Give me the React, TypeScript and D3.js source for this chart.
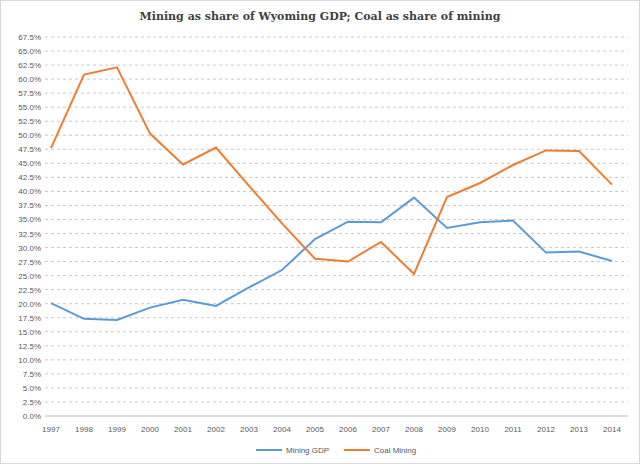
import React from 'react';
import * as d3 from 'd3';

const years = d3.range(1997, 2015).map(String);
const miningGdp = [20.1, 17.3, 17.1, 19.3, 20.7, 19.6, 22.9, 26.0, 31.5, 34.6, 34.5, 38.9, 33.5, 34.5, 34.8, 29.1, 29.3, 27.6];
const coalMining = [47.7, 60.8, 62.1, 50.3, 44.8, 47.8, 41.0, 34.3, 28.0, 27.5, 31.0, 25.3, 39.0, 41.5, 44.7, 47.3, 47.2, 41.2];
const yTicks = d3.range(0, 68, 2.5);

const W = 640, H = 464;
const margin = { top: 37, right: 12, bottom: 48, left: 45 };

const App: React.FC = () => {
  const x = d3.scalePoint<string>().domain(years).range([margin.left + 6, W - margin.right - 16]);
  const y = d3.scaleLinear().domain([0, 67.5]).range([H - margin.bottom, margin.top]);
  const line = (vals: number[]) =>
    d3.line<number>().x((_, i) => x(years[i])!).y(d => y(d))(vals)!;
  const font = '"Liberation Sans", Arial, sans-serif';

  return (
    <svg width={W} height={H} style={{ position: 'absolute', left: 0, top: 0 }}>
      <rect x={0.5} y={0.5} width={W - 1} height={H - 1} fill="#fff" stroke="#d9d9d9" />
      <text x={W / 2} y={20} textAnchor="middle" fontFamily='"DejaVu Serif", serif' fontWeight="bold" fontSize={11} fill="#404040">
        Mining as share of Wyoming GDP; Coal as share of mining
      </text>
      {yTicks.map(t => (
        <g key={t}>
          <line x1={margin.left} x2={W - margin.right} y1={y(t)} y2={y(t)}
            stroke={t === 0 ? '#bfbfbf' : '#c8c8c8'} strokeDasharray={t === 0 ? undefined : '3,3'} />
          <text x={margin.left - 4} y={y(t) + 3} textAnchor="end" fontFamily={font} fontSize={8} fill="#595959">
            {t.toFixed(1)}%
          </text>
        </g>
      ))}
      {years.map(yr => (
        <text key={yr} x={x(yr)} y={H - margin.bottom + 16} textAnchor="middle" fontFamily={font} fontSize={8} fill="#595959">{yr}</text>
      ))}
      <path d={line(miningGdp)} fill="none" stroke="#5b9bd5" strokeWidth={2} />
      <path d={line(coalMining)} fill="none" stroke="#ed7d31" strokeWidth={2} />
      <g fontFamily={font} fontSize={8} fill="#595959">
        <line x1={256} x2={282} y1={450} y2={450} stroke="#5b9bd5" strokeWidth={2} />
        <text x={286} y={453}>Mining GDP</text>
        <line x1={344} x2={370} y1={450} y2={450} stroke="#ed7d31" strokeWidth={2} />
        <text x={374} y={453}>Coal Mining</text>
      </g>
    </svg>
  );
};

export default App;
